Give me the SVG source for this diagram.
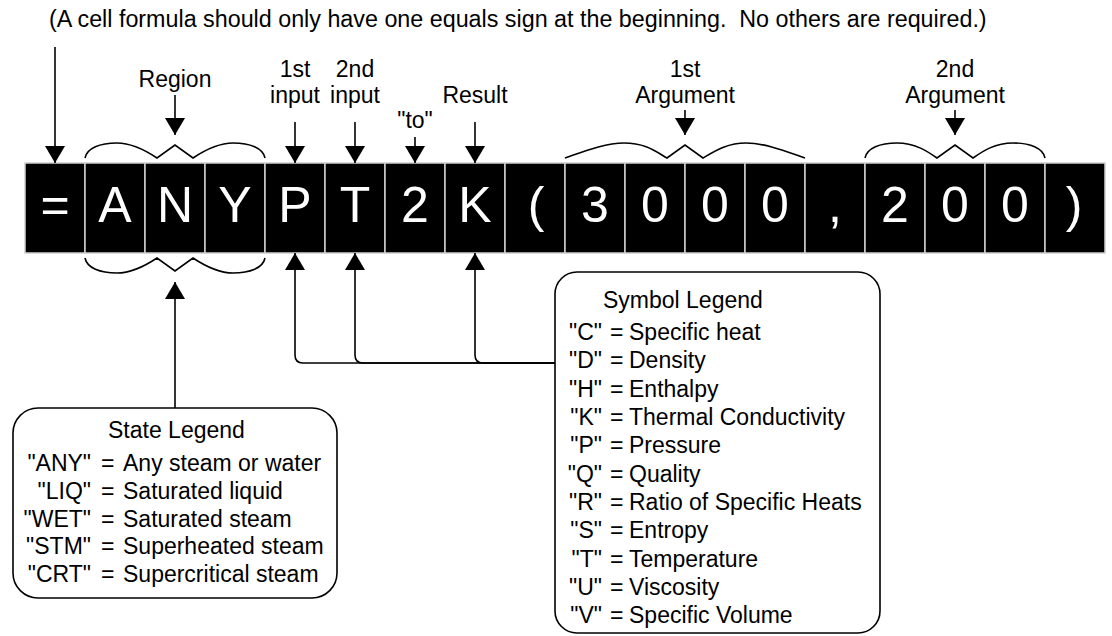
<svg xmlns="http://www.w3.org/2000/svg" width="1112" height="636" viewBox="0 0 1112 636">
<style>
text { font-family: "Liberation Sans", Arial, Helvetica, sans-serif; font-size: 23px; fill: #000; }
.m { text-anchor: middle; }
.e { text-anchor: end; }
.note { font-size: 23.3px; }
.cell rect { fill: #000; stroke: #d0d0d0; stroke-width: 1.5; }
.cell text { font-size: 50px; fill: #fff; text-anchor: middle; }
.ln { fill: none; stroke: #000; stroke-width: 1.6; }
.box { fill: #fff; stroke: #000; stroke-width: 1.6; }
</style>
<defs>
<marker id="ah" markerUnits="userSpaceOnUse" markerWidth="17" markerHeight="20" viewBox="0 0 17 20" refX="17" refY="10" orient="auto">
<path d="M0,0 L17,10 L0,20 Z" fill="#000"/>
</marker>
</defs>
<rect width="1112" height="636" fill="#fff"/>

<g id="note">
<text class="note" x="49" y="27" xml:space="preserve">(A cell formula should only have one equals sign at the beginning.  No others are required.)</text>
</g>

<g id="labels">
<text class="m" x="175" y="87">Region</text>
<text class="m" x="295" y="77">1st</text>
<text class="m" x="295" y="103">input</text>
<text class="m" x="355" y="77">2nd</text>
<text class="m" x="355" y="103">input</text>
<text class="m" x="415" y="128">"to"</text>
<text class="m" x="475" y="103">Result</text>
<text class="m" x="685" y="77">1st</text>
<text class="m" x="685" y="103">Argument</text>
<text class="m" x="955" y="77">2nd</text>
<text class="m" x="955" y="103">Argument</text>
</g>

<g id="formula">
<g id="cell-eq" class="cell"><rect x="25" y="163" width="60" height="90"/><text x="55" y="222">=</text></g>
<g id="cell-A" class="cell"><rect x="85" y="163" width="60" height="90"/><text x="115" y="222">A</text></g>
<g id="cell-N" class="cell"><rect x="145" y="163" width="60" height="90"/><text x="175" y="222">N</text></g>
<g id="cell-Y" class="cell"><rect x="205" y="163" width="60" height="90"/><text x="235" y="222">Y</text></g>
<g id="cell-P" class="cell"><rect x="265" y="163" width="60" height="90"/><text x="295" y="222">P</text></g>
<g id="cell-T" class="cell"><rect x="325" y="163" width="60" height="90"/><text x="355" y="222">T</text></g>
<g id="cell-2a" class="cell"><rect x="385" y="163" width="60" height="90"/><text x="415" y="222">2</text></g>
<g id="cell-K" class="cell"><rect x="445" y="163" width="60" height="90"/><text x="475" y="222">K</text></g>
<g id="cell-lp" class="cell"><rect x="505" y="163" width="60" height="90"/><text x="536" y="222">(</text></g>
<g id="cell-3" class="cell"><rect x="565" y="163" width="60" height="90"/><text x="595" y="222">3</text></g>
<g id="cell-0a" class="cell"><rect x="625" y="163" width="60" height="90"/><text x="655" y="222">0</text></g>
<g id="cell-0b" class="cell"><rect x="685" y="163" width="60" height="90"/><text x="715" y="222">0</text></g>
<g id="cell-0c" class="cell"><rect x="745" y="163" width="60" height="90"/><text x="775" y="222">0</text></g>
<g id="cell-comma" class="cell"><rect x="805" y="163" width="60" height="90"/><text x="835" y="222">,</text></g>
<g id="cell-2b" class="cell"><rect x="865" y="163" width="60" height="90"/><text x="895" y="222">2</text></g>
<g id="cell-0d" class="cell"><rect x="925" y="163" width="60" height="90"/><text x="955" y="222">0</text></g>
<g id="cell-0e" class="cell"><rect x="985" y="163" width="60" height="90"/><text x="1015" y="222">0</text></g>
<g id="cell-rp" class="cell"><rect x="1045" y="163" width="60" height="90"/><text x="1074" y="222">)</text></g>
</g>

<g id="state-legend">
<rect class="box" x="13" y="408" width="324" height="190" rx="25" ry="25"/>
<text x="108" y="438">State Legend</text>
<text class="e" x="91" y="471">"ANY"</text><text x="101" y="471">=</text><text x="123" y="471">Any steam or water</text>
<text class="e" x="91" y="499">"LIQ"</text><text x="101" y="499">=</text><text x="123" y="499">Saturated liquid</text>
<text class="e" x="91" y="527">"WET"</text><text x="101" y="527">=</text><text x="123" y="527">Saturated steam</text>
<text class="e" x="91" y="554">"STM"</text><text x="101" y="554">=</text><text x="123" y="554">Superheated steam</text>
<text class="e" x="91" y="582">"CRT"</text><text x="101" y="582">=</text><text x="123" y="582">Supercritical steam</text>
</g>

<g id="symbol-legend">
<rect class="box" x="555" y="272" width="325" height="361" rx="22" ry="22"/>
<text x="603" y="308">Symbol Legend</text>
<text class="e" x="602" y="340">"C"</text><text x="610" y="340">=</text><text x="629" y="340">Specific heat</text>
<text class="e" x="602" y="368">"D"</text><text x="610" y="368">=</text><text x="629" y="368">Density</text>
<text class="e" x="602" y="397">"H"</text><text x="610" y="397">=</text><text x="629" y="397">Enthalpy</text>
<text class="e" x="602" y="425">"K"</text><text x="610" y="425">=</text><text x="629" y="425">Thermal Conductivity</text>
<text class="e" x="602" y="453">"P"</text><text x="610" y="453">=</text><text x="629" y="453">Pressure</text>
<text class="e" x="602" y="482">"Q"</text><text x="610" y="482">=</text><text x="629" y="482">Quality</text>
<text class="e" x="602" y="510">"R"</text><text x="610" y="510">=</text><text x="629" y="510">Ratio of Specific Heats</text>
<text class="e" x="602" y="538">"S"</text><text x="610" y="538">=</text><text x="629" y="538">Entropy</text>
<text class="e" x="602" y="567">"T"</text><text x="610" y="567">=</text><text x="629" y="567">Temperature</text>
<text class="e" x="602" y="595">"U"</text><text x="610" y="595">=</text><text x="629" y="595">Viscosity</text>
<text class="e" x="602" y="623">"V"</text><text x="610" y="623">=</text><text x="629" y="623">Specific Volume</text>
</g>

<g id="connectors" class="ln">
<path marker-end="url(#ah)" d="M55,47 V163"/>
<path marker-end="url(#ah)" d="M175,95 V135"/>
<path marker-end="url(#ah)" d="M295,122 V163"/>
<path marker-end="url(#ah)" d="M355,122 V163"/>
<path marker-end="url(#ah)" d="M415,137 V163"/>
<path marker-end="url(#ah)" d="M475,122 V163"/>
<path marker-end="url(#ah)" d="M685,110 V135"/>
<path marker-end="url(#ah)" d="M955,110 V135"/>
<path d="M85,158 C87,148 100,143 117,143 C132,143 145,150 157,158 L175,145 L193,158 C205,150 218,143 233,143 C250,143 263,148 265,158"/>
<path d="M565,158 C585,151 605,143 624,143 C645,143 655,151 667,158 L685,145 L703,158 C715,151 727,143 746,143 C765,143 785,151 805,158"/>
<path d="M865,158 C867,148 880,143 897,143 C915,143 927,151 937,158 L955,145 L973,158 C983,151 995,143 1013,143 C1030,143 1043,148 1045,158"/>
<path d="M85,258 C87,268 100,273 117,273 C132,273 145,266 157,258 L175,271 L193,258 C205,266 218,273 233,273 C250,273 263,268 265,258"/>
<path marker-end="url(#ah)" d="M175,408 V282"/>
<path marker-end="url(#ah)" d="M555,363 H303 Q295,363 295,355 V253"/>
<path marker-end="url(#ah)" d="M555,363 H363 Q355,363 355,355 V253"/>
<path marker-end="url(#ah)" d="M555,363 H483 Q475,363 475,355 V253"/>
</g>
</svg>
